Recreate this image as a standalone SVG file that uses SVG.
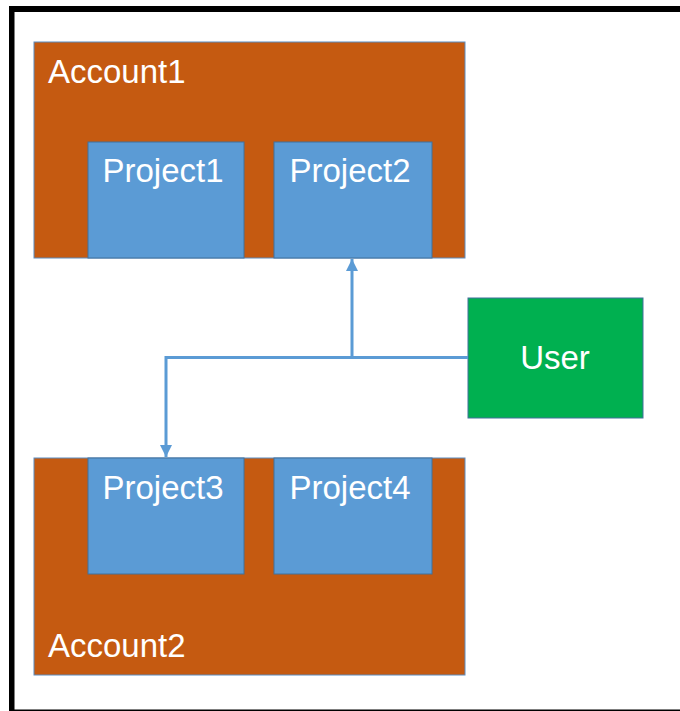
<svg xmlns="http://www.w3.org/2000/svg" width="680" height="711" viewBox="0 0 680 711">
<defs>
<style>
.acc{fill:#C55A11;stroke:#5B8CC0;stroke-width:1}
.prj{fill:#5B9BD5;stroke:#41719C;stroke-width:1}
.usr{fill:#00B050;stroke:#41719C;stroke-width:1}
.lbl{font-family:"Liberation Sans",Arial,sans-serif;font-size:33px;fill:#FFFFFF}
.con{fill:none;stroke:#5B9BD5;stroke-width:3}
</style>
<marker id="ah" viewBox="0 0 10 10" refX="10" refY="5" markerWidth="4" markerHeight="4" markerUnits="strokeWidth" orient="auto">
<path d="M0,0 L10,5 L0,10 Z" fill="#5B9BD5"/>
</marker>
</defs>
<rect x="0" y="0" width="680" height="711" fill="#FFFFFF"/>
<g id="frame">
<rect x="9" y="6" width="671" height="6" fill="#000000"/>
<rect x="9" y="6" width="5.5" height="705" fill="#000000"/>
<rect x="9" y="709.5" width="671" height="1.5" fill="#000000"/>
</g>
<g id="account1">
<rect class="acc" x="34" y="42" width="431" height="216"/>
<text class="lbl" x="48" y="83">Account1</text>
</g>
<g id="project1">
<rect class="prj" x="88" y="142" width="156" height="116"/>
<text class="lbl" x="163" y="182" text-anchor="middle">Project1</text>
</g>
<g id="project2">
<rect class="prj" x="274" y="142" width="158" height="116"/>
<text class="lbl" x="350" y="182" text-anchor="middle">Project2</text>
</g>
<g id="account2">
<rect class="acc" x="34" y="458" width="431" height="217"/>
<text class="lbl" x="48" y="657">Account2</text>
</g>
<g id="project3">
<rect class="prj" x="88" y="458" width="156" height="116"/>
<text class="lbl" x="163" y="499" text-anchor="middle">Project3</text>
</g>
<g id="project4">
<rect class="prj" x="274" y="458" width="158" height="116"/>
<text class="lbl" x="350" y="499" text-anchor="middle">Project4</text>
</g>
<g id="user">
<rect class="usr" x="468" y="298" width="175" height="120"/>
<text class="lbl" x="555" y="369" text-anchor="middle">User</text>
</g>
<g id="connectors">
<path class="con" d="M468,357.5 L352,357.5 L352,259" marker-end="url(#ah)"/>
<path class="con" d="M352,357.5 L166,357.5 L166,457" marker-end="url(#ah)"/>
</g>
</svg>
